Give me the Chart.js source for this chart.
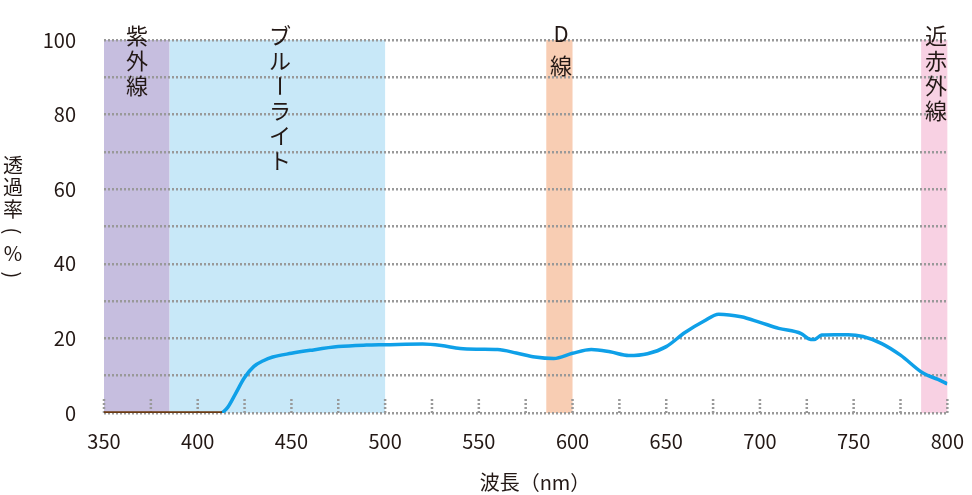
<!DOCTYPE html>
<html><head><meta charset="utf-8">
<script src="https://cdn.jsdelivr.net/npm/chart.js@4"></script>
<style>body{margin:0;background:#fff}</style></head>
<body><canvas id="c" width="972" height="495"></canvas>
<script>
const wavelengths=[413,416,420,425,430,435,440,450,460,475,490,500,520,530,540,550,560,570,580,590,600,610,620,630,640,650,660,670,678,690,700,710,722,726,729,733,740,747,755,765,775,787,795,800];
const transmittance=[0,1.5,5,9.5,12.5,14,15,16,16.8,17.8,18.2,18.3,18.5,18.1,17.3,17.1,17,16.1,15,14.6,16,17,16.4,15.4,15.9,17.8,21.6,24.6,26.5,25.8,24.3,22.7,21.3,19.9,19.7,20.9,21,21,20.5,18.6,15.5,10.7,9,7.8];
const blockX=[350,413];
const blockY=[0,0];
const bands=[{from:350,to:385,color:'#c6bedf',label:['紫','外','線']},{from:385,to:500,color:'#c8e8f8',label:['ブ','ル','ー','ラ','イ','ト']},{from:586,to:600,color:'#f8cdb3',label:['D','線']},{from:786,to:800,color:'#f8d1e3',label:['近','赤','外','線']}];
const labelX=[137,280,561,936];
const yTitle=['透','過','率','(','%',')'];
const xTitle='波長（nm）';
const FONT='"Noto Sans CJK JP","Noto Sans",sans-serif';
const plug={id:'p',
beforeDraw(ch){const c=ch.ctx,x=ch.scales.x,a=ch.chartArea;c.save();
 bands.forEach(b=>{c.fillStyle=b.color;const l=x.getPixelForValue(b.from),r=x.getPixelForValue(b.to);c.fillRect(l,a.top,r-l,a.bottom-a.top);});
 c.strokeStyle='#999';c.lineWidth=2.5;c.setLineDash([2,2]);
 for(let v=350;v<=800;v+=25){const px=x.getPixelForValue(v);c.beginPath();c.moveTo(px,a.bottom);c.lineTo(px,a.bottom-16);c.stroke();}
 c.restore();},
afterDraw(ch){const c=ch.ctx;c.save();c.fillStyle='#231815';c.textAlign='center';c.textBaseline='middle';
 function vt(chars,cx,y0,step,size){c.font=size+'px '+FONT;chars.forEach((s,i)=>{const y=y0+i*step;if('ー()'.includes(s)){c.save();c.translate(cx,y);c.rotate(Math.PI/2);c.fillText(s,0,0);c.restore();}else c.fillText(s,cx,y);});}
 bands.forEach((b,i)=>vt(b.label,labelX[i],b.label[0]==='D'?34:36,b.label[0]==='D'?32:25,22));
 vt(yTitle,13,165,22,20);
 c.font='20px '+FONT;c.fillText(xTitle,535,482);c.restore();}};
new Chart(document.getElementById('c'),{type:'line',
data:{datasets:[{data:blockX.map((v,i)=>({x:v,y:blockY[i]})),borderColor:'#6b3a12',borderWidth:3.5,pointRadius:0},
{data:wavelengths.map((v,i)=>({x:v,y:transmittance[i]})),borderColor:'#0fa0e8',borderWidth:3.5,pointRadius:0,cubicInterpolationMode:'monotone'}]},
options:{responsive:false,animation:false,layout:{padding:{top:-16,right:23,left:0,bottom:0}},
plugins:{legend:{display:false},tooltip:{enabled:false}},
scales:{x:{type:'linear',min:350,max:800,grid:{display:false},border:{display:false},
 ticks:{stepSize:50,color:'#231815',font:{size:20,family:FONT},padding:8},afterFit(s){s.height=82;}},
y:{min:0,max:100,border:{display:false,dash:[2,2]},grid:{color:'#999',lineWidth:2.5,drawTicks:false},
 ticks:{stepSize:10,color:'#231815',font:{size:20,family:FONT},padding:28,callback:v=>v%20===0?v:''},afterFit(s){s.width=104;}}}},
plugins:[plug]});
</script>
</body></html>
